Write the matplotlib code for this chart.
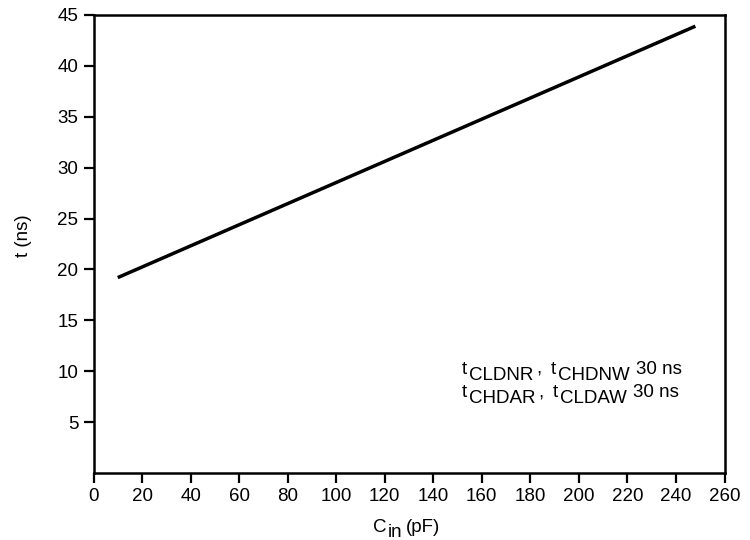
import matplotlib
matplotlib.use("Agg")
import matplotlib.pyplot as plt

# Data
cin_pf = [10, 248]
t_ns = [19.2, 43.9]
x_ticks = list(range(0, 261, 20))
y_ticks = list(range(5, 46, 5))
# annotation pieces: (text, lowered-as-subscript?)
annotation_line1 = [("t", False), ("CLDNR", True), (",", False), ("t", False),
                    ("CHDNW", True), ("30 ns", False)]
annotation_line2 = [("t", False), ("CHDAR", True), (",", False), ("t", False),
                    ("CLDAW", True), ("30 ns", False)]
xlabel_parts = [("C", False), ("in", True), ("(pF)", False)]
ylabel_text = "t (ns)"

plt.rcParams['font.family'] = ['Liberation Sans', 'DejaVu Sans']

W, H = 750, 540
fig = plt.figure(figsize=(7.5, 5.4), dpi=100)
ax = fig.add_axes([93.5 / W, 1 - 473 / H, 631 / W, 458 / H])

ax.plot(cin_pf, t_ns, color='black', lw=2.5, solid_capstyle='butt')

ax.set_xlim(0, 260)
ax.set_ylim(0, 45)
ax.set_xticks(x_ticks)
ax.set_xticklabels([str(v) for v in x_ticks])
ax.set_yticks(y_ticks)
ax.set_yticklabels([str(v) for v in y_ticks])
ax.tick_params(direction='out', length=7, width=1.6, labelsize=13.5, color='black', pad=4)
for s in ax.spines.values():
    s.set_linewidth(1.8)

renderer = fig.canvas.get_renderer()


def rich_line(x0, base, parts, fs, drop, gaps):
    """Place text pieces left to right (pixel coords from top-left)."""
    x = x0
    for i, (txt, sub) in enumerate(parts):
        y = base + (drop if sub else 0)
        t = fig.text(x / W, 1 - y / H, txt, fontsize=fs, ha='left', va='baseline')
        bb = t.get_window_extent(renderer)
        x = bb.x1 + gaps[i]


ann_gaps = [2.5, 3, 9, 2.5, 6, 0]
rich_line(461.5, 374, annotation_line1, 13.5, 6, ann_gaps)
rich_line(461.5, 397, annotation_line2, 13.5, 6, ann_gaps)

rich_line(373, 532, xlabel_parts, 13.5, 5, [1, 4, 0])
fig.text(23 / W, 1 - 236 / H, ylabel_text, fontsize=13.5, rotation=90,
         ha='center', va='center')

fig.savefig("out.png", dpi=100)
